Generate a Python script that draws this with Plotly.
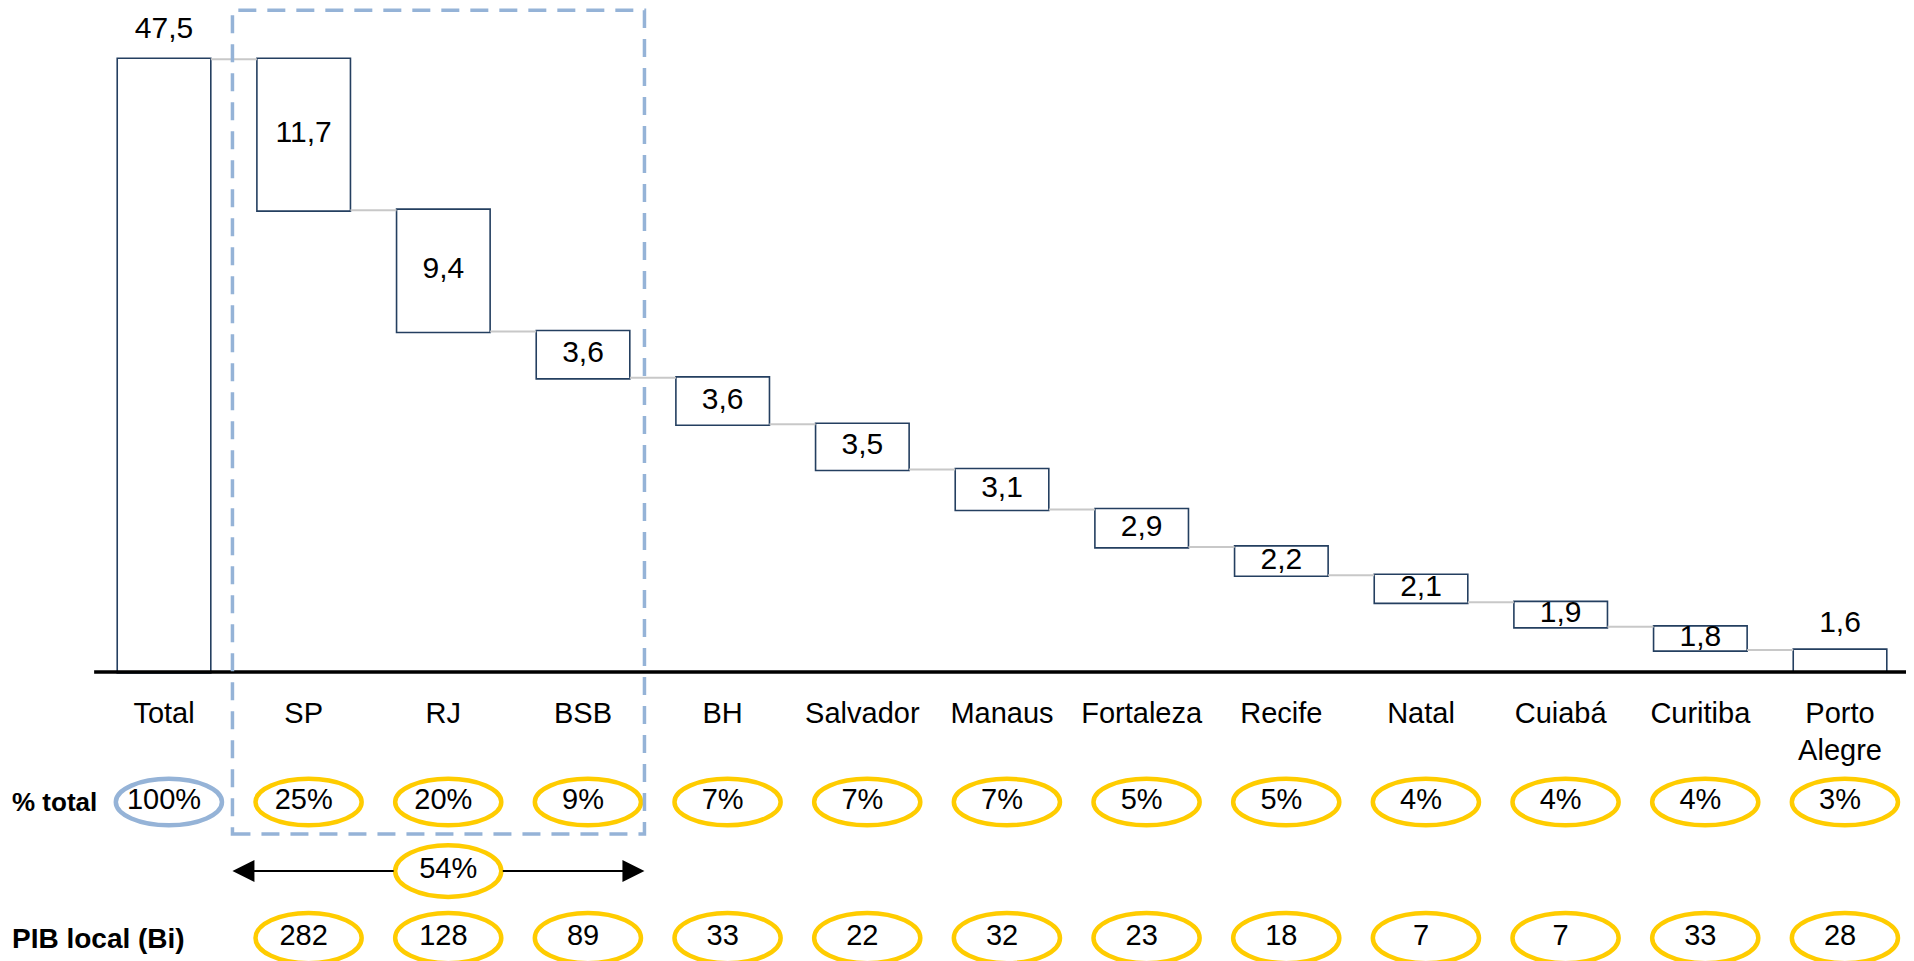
import plotly.graph_objects as go

# dados
categorias = ["Total", "SP", "RJ", "BSB", "BH", "Salvador", "Manaus", "Fortaleza",
              "Recife", "Natal", "Cuiabá", "Curitiba", "Porto<br>Alegre"]
total = 47.5
valores_cidade = [11.7, 9.4, 3.6, 3.6, 3.5, 3.1, 2.9, 2.2, 2.1, 1.9, 1.8, 1.6]
pct_total = ["100%", "25%", "20%", "9%", "7%", "7%", "7%", "5%", "5%", "4%", "4%", "4%", "3%"]
pib_local = ["", "282", "128", "89", "33", "22", "32", "23", "18", "7", "7", "33", "28"]
pct_top3 = "54%"
idx_top3 = [1, 2, 3]

NAVY = "#243F60"
YELLOW = "#FFCC00"
LIGHTBLUE = "#95B3D7"
FONT = "Liberation Sans, Arial, sans-serif"

xs = list(range(len(categorias)))

# posicoes das linhas abaixo do eixo (unidades do eixo y)
Y_CAT = -2.25
Y_PCT = -10.08
Y_TOP3 = -15.43
Y_PIB = -20.62
ELL_W = 0.38
ELL_H = 1.8
ELL_DX = 0.035

fig = go.Figure()

box = dict(marker=dict(color="white", line=dict(color=NAVY, width=1.6)))
fig.add_trace(go.Waterfall(
    x=xs,
    y=[total] + [-v for v in valores_cidade],
    measure=["absolute"] + ["relative"] * len(valores_cidade),
    width=0.67,
    increasing=box, decreasing=box, totals=box,
    connector=dict(line=dict(color="#C8C8C8", width=2)),
    textinfo="none", hoverinfo="skip", showlegend=False,
))

# rotulos dos valores
nivel = total
lab_y, lab_txt = [total + 2.25], [f"{total:.1f}".replace(".", ",")]
for i, v in enumerate(valores_cidade):
    topo = nivel
    nivel = nivel - v
    if i == len(valores_cidade) - 1:
        lab_y.append(topo + 1.95)
    else:
        lab_y.append((topo + nivel) / 2)
    lab_txt.append(f"{v:.1f}".replace(".", ","))

fig.add_trace(go.Scatter(
    x=xs, y=lab_y, text=lab_txt, mode="text", textposition="middle center",
    textfont=dict(family=FONT, size=30, color="black"),
    hoverinfo="skip", showlegend=False,
))

# nomes das categorias
fig.add_trace(go.Scatter(
    x=xs, y=[Y_CAT] * len(xs), text=categorias, mode="text", textposition="bottom center",
    textfont=dict(family=FONT, size=29, color="black"),
    hoverinfo="skip", showlegend=False,
))

shapes = []
# eixo
shapes.append(dict(type="line", xref="paper", yref="y", x0=0.045, x1=1, y0=0, y1=0,
                   line=dict(color="black", width=3.5)))

# elipses % total
for i, t in enumerate(pct_total):
    cor = LIGHTBLUE if i == 0 else YELLOW
    shapes.append(dict(type="circle", xref="x", yref="y",
                       x0=i + ELL_DX - ELL_W, x1=i + ELL_DX + ELL_W,
                       y0=Y_PCT - ELL_H, y1=Y_PCT + ELL_H,
                       line=dict(color=cor, width=4.5), fillcolor="rgba(0,0,0,0)", layer="below"))
# elipses PIB
for i, t in enumerate(pib_local):
    if t == "":
        continue
    shapes.append(dict(type="circle", xref="x", yref="y",
                       x0=i + ELL_DX - ELL_W, x1=i + ELL_DX + ELL_W,
                       y0=Y_PIB - 1.95, y1=Y_PIB + 1.95,
                       line=dict(color=YELLOW, width=4.5), fillcolor="rgba(0,0,0,0)", layer="below"))

# caixa tracejada das 3 maiores
bx0 = idx_top3[0] - 0.51
bx1 = idx_top3[-1] + 0.44
shapes.append(dict(type="rect", xref="x", yref="y", x0=bx0, x1=bx1, y0=-12.56, y1=51.3,
                   line=dict(color=LIGHTBLUE, width=3.5, dash="18px,11px")))

# elipse 54%
xm = idx_top3[1] + ELL_DX
shapes.append(dict(type="circle", xref="x", yref="y",
                   x0=xm - ELL_W, x1=xm + ELL_W, y0=Y_TOP3 - 2.0, y1=Y_TOP3 + 2.0,
                   line=dict(color=YELLOW, width=4.5), fillcolor="rgba(0,0,0,0)", layer="below"))

annotations = []
# setas
for tail, head in [(xm - ELL_W, bx0), (xm + ELL_W, bx1)]:
    annotations.append(dict(x=head, y=Y_TOP3, ax=tail, ay=Y_TOP3, xref="x", yref="y",
                            axref="x", ayref="y", text="", showarrow=True,
                            arrowhead=2, arrowsize=2.2, arrowwidth=2, arrowcolor="black"))

fig.add_trace(go.Scatter(
    x=xs, y=[Y_PCT] * len(xs), text=pct_total, mode="text",
    textfont=dict(family=FONT, size=29, color="black"),
    hoverinfo="skip", showlegend=False,
))
fig.add_trace(go.Scatter(
    x=xs, y=[Y_PIB] * len(xs), text=pib_local, mode="text",
    textfont=dict(family=FONT, size=29, color="black"),
    hoverinfo="skip", showlegend=False,
))
fig.add_trace(go.Scatter(
    x=[xm], y=[Y_TOP3], text=[pct_top3], mode="text",
    textfont=dict(family=FONT, size=29, color="black"),
    hoverinfo="skip", showlegend=False,
))

for txt, yy, sz in [("% total", Y_PCT, 26), ("PIB local (Bi)", Y_PIB, 28)]:
    annotations.append(dict(x=0.001, xref="paper", y=yy, yref="y", text=f"<b>{txt}</b>",
                            showarrow=False, xanchor="left", yanchor="middle",
                            font=dict(family=FONT, size=sz, color="black")))

# a pagina tem 8px de margem no body: faixas deslocadas para compensar
fig.update_layout(
    width=1914, height=961,
    margin=dict(l=0, r=0, t=0, b=0),
    paper_bgcolor="white", plot_bgcolor="white",
    xaxis=dict(visible=False, range=[-1.117, 12.587]),
    yaxis=dict(visible=False, range=[-23.02, 51.47]),
    shapes=shapes, annotations=annotations,
    hovermode=False,
)

fig.write_html("out.html", config={"displayModeBar": False})
